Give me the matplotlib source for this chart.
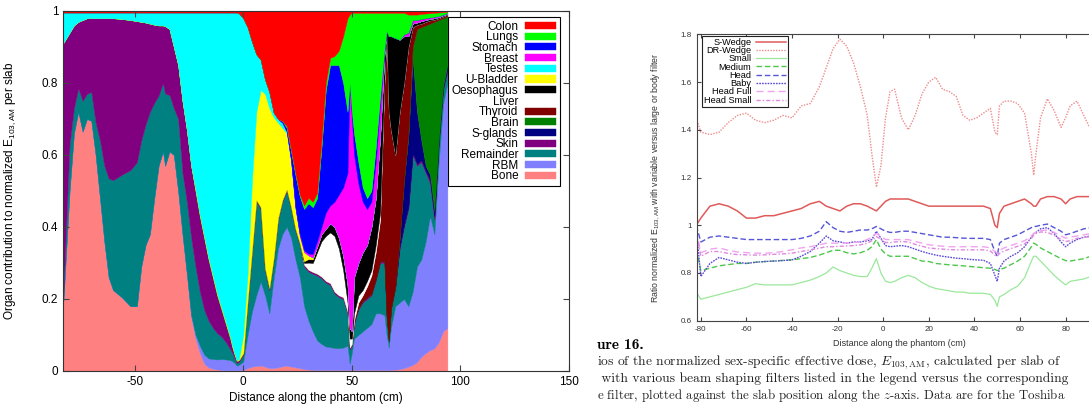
import matplotlib
matplotlib.use("Agg")
import matplotlib.pyplot as plt

plt.rcParams['font.family'] = ['Liberation Sans', 'DejaVu Sans']
plt.rcParams['axes.unicode_minus'] = False

# ---------------- left panel: organ contribution per slab ----------------
position = [-83, -80, -78, -76, -74, -72, -70, -68, -66, -64,
            -62, -60, -56, -52, -49, -47, -45, -43, -41, -39,
            -37, -36, -34, -32, -30, -28, -26, -24, -22, -20,
            -18, -16, -14, -12, -10, -8, -6, -5, -4, -3,
            -2, 0, 2, 4, 6, 8, 10, 12, 14, 16,
            18, 20, 22, 24, 26, 28, 30, 32, 34, 36,
            38, 40, 42, 44, 46, 48, 49, 50, 51, 53,
            55, 57, 59, 61, 63, 65, 66, 67, 68, 70,
            72, 74, 76, 78, 80, 82, 84, 86, 88, 90,
            92, 94]

bone = [.18, .50, .66, .72, .665, .70, .695, .60, .48, .36,
        .26, .225, .205, .18, .18, .29, .35, .38, .48, .57,
        .61, .57, .61, .60, .50, .38, .27, .15, .09, .05,
        .02, .01, .006, .004, .003, .002, .002, .002, .002, .002,
        .002, .003, .008, .012, .014, .015, .012, .008, .008, .01,
        .013, .015, .012, .01, .008, .005, .004, .003, .003, .003,
        .003, .003, .003, .003, .003, .003, .003, .003, .003, .003,
        .003, .003, .003, .003, .003, .003, .003, .003, .003, .004,
        .005, .008, .012, .017, .025, .04, .05, .058, .063, .08,
        .11, .12]
rbm = [0, 0, 0, 0, 0, 0, 0, 0, 0, 0,
       0, 0, 0, 0, 0, 0, 0, 0, 0, 0,
       0, 0, 0, 0, 0, 0, 0, .005, .01, .02,
       .025, .025, .027, .028, .03, .03, .028, .025, .02, .013,
       .015, .023, .092, .153, .196, .233, .198, .152, .249, .33,
       .367, .385, .358, .30, .252, .175, .136, .107, .082, .072,
       .065, .063, .061, .06, .062, .067, .017, .047, .087, .097,
       .107, .117, .127, .157, .157, .152, .097, .062, .117, .176,
       .185, .192, .168, .203, .265, .27, .31, .372, .317, .50,
       .63, .68]
remainder = [.02, .13, .07, .065, .085, .07, .08, .09, .16, .21,
             .275, .305, .34, .378, .40, .35, .335, .34, .265, .195,
             .19, .20, .157, .13, .20, .17, .20, .215, .19, .15,
             .125, .105, .087, .073, .062, .048, .03, .023, .013, .007,
             .008, .019, .09, .165, .26, .202, .07, .065, .053, .08,
             .09, .10, .08, .08, .09, .11, .136, .16, .18, .182,
             .177, .173, .151, .142, .135, .09, .04, .02, .04, .07,
             .08, .08, .08, .09, .14, .145, .05, .015, .05, .05,
             .15, .20, .27, .38, .28, .27, .19, .09, .04, .05,
             .04, .03]
skin = [.71, .31, .23, .185, .225, .21, .205, .29, .34, .41,
        .445, .45, .433, .417, .392, .33, .283, .245, .217, .195,
        .16, .188, .183, .17, .15, .20, .20, .20, .21, .21,
        .20, .17, .14, .105, .075, .05, .03, .015, .01, .006,
        .005, .005, .005, .005, .005, .005, .005, .005, .005, .005,
        .005, .005, .005, .005, .005, .005, .005, .005, .005, .005,
        .005, .005, .005, .005, .005, .005, .005, .005, .005, .005,
        .005, .005, .005, .005, .005, .005, .005, .005, .005, .005,
        .005, .005, .005, .005, .005, .005, .005, .01, .01, .005,
        .005, .01]
s_glands = [0] * 80 + [.025, .125, .195, .265, .145, .055, .015, .015, .015, .005,
                       .005, .01]
brain = [0] * 80 + [0, 0, .01, .03, .23, .315, .39, .42, .525, .335,
                    .19, .135]
thyroid = [0] * 60 + [0, 0, 0, 0, 0, 0, 0, 0, .005, .015,
                      .015, .03, .05, .075, .115, .495, .785, .635, .495, .365,
                      .35, .27, .24, .055, .012, .01, .01, .009, .006, .005,
                      .005, .005]
liver = [0] * 50 + [0, 0, 0, 0, 0, .005, .02, .025, .06, .098,
                    .125, .141, .155, .13, .075, .025, .025, .015, .02, .02,
                    .015, .015, .015, .02, .02, .01, 0, 0, 0, 0,
                    0, 0, 0, 0, 0, 0, 0, 0, 0, 0,
                    0, 0]
oesophagus = [0] * 50 + [0, 0, 0, 0, 0, .005, .01, .01, .015, .02,
                         .02, .025, .025, .03, .04, .05, .03, .02, .10, .09,
                         .105, .10, .12, .13, .21, .07, .005, .21, .26, .325,
                         .20, .13, .03, .01, .006, .007, .005, .004, .004, .003,
                         .003, .002]
u_bladder = [0] * 20 + [0, 0, 0, 0, 0, 0, 0, 0, .005, .005,
                        .005, .005, .005, .005, .005, .005, .005, .004, .003, .002,
                        .003, .05, .075, .195, .245, .325, .485, .50, .39, .265,
                        .20, .155, .125, .055, .02, .025, .01, .005, 0, 0] + [0] * 32
testes = [.086, .056, .036, .026, .021, .016, .016, .016, .016, .016,
          .016, .016, .018, .021, .024, .026, .028, .031, .034, .036,
          .036, .038, .046, .096, .146, .246, .326, .426, .491, .561,
          .621, .681, .731, .781, .821, .861, .901, .927, .948, .966,
          .961, .88, .685, .385, .16, .085, .04, .045, .013, .01,
          .015, .005, .005, .005, 0, 0, 0, 0, 0, 0] + [0] * 32
breast = [0] * 50 + [0, 0, 0, 0, .005, .005, .005, .01, .015, .02,
                     .045, .05, .07, .12, .19, .31, .68, .59, .34, .22,
                     .14, .10, .07, .10, .09, .01, 0, 0, 0, 0,
                     0, .005, .01, .01, .007, .006, .005, .004, .004, .003,
                     .002, .002]
stomach = [0] * 50 + [.005, .01, .025, .09, .105, .115, .14, .13, .12, .22,
                      .34, .39, .38, .36, .29, .17, 0, .02, .06, .06,
                      .04, .03, .03, .04, .02, .005, 0, 0, 0, 0] + [0] * 12
lungs = [0] * 50 + [0, .005, .004, .005, .005, .01, .015, .015, .015, .02,
                    .02, .02, .025, .04, .13, .26, .19, .275, .335, .415,
                    .485, .515, .495, .375, .235, .10, .05, .065, .065, .07,
                    .075, .06, .05, .015, .015, .014, .013, .012, .011, .01,
                    .007, .004]
colon = [.004] * 40 + [.006, .02, .045, .085, .12, .135, .19, .225, .282, .30,
                       .305, .32, .386, .45, .51, .54, .52, .53, .505, .36,
                       .20, .13, .125, .11, .07, .02, .01, .005, .005, .005,
                       .005, .005, .005, .005, .005, .005, .005, .005, .005, .005,
                       .005, .005, .01, .01, .01, .008, .007, .006, .005, .004,
                       .003, .002]

organ_names = ['Bone', 'RBM', 'Remainder', 'Skin', 'S-glands', 'Brain', 'Thyroid',
               'Liver', 'Oesophagus', 'U-Bladder', 'Testes', 'Breast', 'Stomach',
               'Lungs', 'Colon']
organ_colors = ['#ff8080', '#8080ff', '#008080', '#800080', '#000080', '#008000',
                '#800000', '#ffffff', '#000000', '#ffff00', '#00ffff', '#ff00ff',
                '#0000ff', '#00ff00', '#ff0000']

# ---------------- right panel: ratio per filter ----------------
slab = [-82, -80, -76, -72, -68, -64, -60, -56, -52, -48,
        -44, -40, -36, -32, -28, -25, -22, -19, -16, -13,
        -10, -7, -5, -3, -1, 1, 3, 5, 8, 11,
        14, 17, 20, 23, 26, 29, 32, 35, 38, 41,
        44, 47, 49, 50, 51, 53, 56, 59, 62, 65,
        66, 67, 69, 72, 75, 78, 80, 82, 85, 88,
        91, 94]
s_wedge = [1.00, 1.03, 1.08, 1.09, 1.08, 1.06, 1.03, 1.03, 1.04, 1.04,
           1.05, 1.06, 1.07, 1.09, 1.10, 1.08, 1.07, 1.06, 1.08, 1.09,
           1.09, 1.08, 1.07, 1.06, 1.08, 1.10, 1.11, 1.11, 1.11, 1.11,
           1.10, 1.09, 1.08, 1.08, 1.08, 1.08, 1.08, 1.08, 1.08, 1.08,
           1.08, 1.07, 1.00, 0.99, 1.05, 1.08, 1.09, 1.10, 1.11, 1.09,
           1.08, 1.08, 1.11, 1.12, 1.12, 1.11, 1.09, 1.11, 1.12, 1.12,
           1.12, 1.12]
dr_wedge = [1.45, 1.39, 1.38, 1.39, 1.43, 1.46, 1.47, 1.44, 1.43, 1.44,
            1.46, 1.45, 1.50, 1.51, 1.58, 1.66, 1.74, 1.78, 1.75, 1.68,
            1.58, 1.46, 1.30, 1.16, 1.25, 1.45, 1.56, 1.57, 1.45, 1.40,
            1.46, 1.55, 1.60, 1.62, 1.57, 1.56, 1.54, 1.46, 1.44, 1.45,
            1.47, 1.49, 1.39, 1.38, 1.50, 1.52, 1.52, 1.51, 1.47, 1.30,
            1.21, 1.30, 1.45, 1.53, 1.48, 1.41, 1.45, 1.50, 1.52, 1.46,
            1.40, 1.38]
small = [0.72, 0.69, 0.70, 0.71, 0.72, 0.73, 0.74, 0.755, 0.75, 0.75,
         0.75, 0.75, 0.76, 0.77, 0.785, 0.80, 0.825, 0.81, 0.80, 0.79,
         0.785, 0.785, 0.82, 0.86, 0.80, 0.765, 0.76, 0.765, 0.78, 0.79,
         0.78, 0.76, 0.745, 0.735, 0.73, 0.725, 0.72, 0.72, 0.715, 0.715,
         0.715, 0.71, 0.685, 0.66, 0.70, 0.71, 0.73, 0.745, 0.78, 0.85,
         0.87, 0.87, 0.85, 0.82, 0.79, 0.765, 0.75, 0.765, 0.77, 0.775,
         0.785, 0.79]
medium = [0.90, 0.81, 0.82, 0.83, 0.835, 0.84, 0.84, 0.845, 0.848, 0.85,
          0.853, 0.855, 0.86, 0.865, 0.875, 0.885, 0.895, 0.895, 0.885, 0.88,
          0.885, 0.895, 0.91, 0.94, 0.90, 0.88, 0.87, 0.87, 0.87, 0.87,
          0.86, 0.85, 0.848, 0.84, 0.837, 0.834, 0.832, 0.83, 0.827, 0.825,
          0.822, 0.82, 0.815, 0.81, 0.815, 0.82, 0.835, 0.85, 0.87, 0.91,
          0.925, 0.92, 0.905, 0.89, 0.875, 0.86, 0.852, 0.85, 0.855, 0.86,
          0.87, 0.875]
head = [1.00, 0.93, 0.95, 0.955, 0.95, 0.945, 0.94, 0.94, 0.94, 0.94,
        0.94, 0.94, 0.945, 0.955, 0.975, 1.015, 0.99, 0.975, 0.97, 0.975,
        0.98, 0.98, 0.985, 0.995, 0.985, 0.975, 0.97, 0.97, 0.975, 0.975,
        0.97, 0.965, 0.96, 0.955, 0.95, 0.95, 0.948, 0.946, 0.945, 0.945,
        0.945, 0.94, 0.89, 0.87, 0.925, 0.94, 0.95, 0.96, 0.975, 0.99,
        0.995, 0.995, 1.00, 1.005, 0.99, 0.975, 0.96, 0.965, 0.975, 0.985,
        0.99, 0.99]
baby = [0.98, 0.785, 0.84, 0.865, 0.855, 0.845, 0.84, 0.845, 0.848, 0.85,
        0.852, 0.855, 0.87, 0.89, 0.925, 0.955, 0.935, 0.93, 0.925, 0.93,
        0.93, 0.935, 0.94, 0.975, 0.945, 0.915, 0.91, 0.912, 0.915, 0.91,
        0.90, 0.89, 0.882, 0.875, 0.87, 0.866, 0.862, 0.86, 0.857, 0.855,
        0.853, 0.84, 0.79, 0.765, 0.82, 0.85, 0.87, 0.885, 0.91, 0.95,
        0.965, 0.97, 0.985, 0.99, 0.965, 0.93, 0.91, 0.925, 0.94, 0.95,
        0.955, 0.96]
head_full = [0.98, 0.885, 0.90, 0.905, 0.895, 0.888, 0.885, 0.883, 0.883, 0.885,
             0.89, 0.897, 0.905, 0.91, 0.918, 0.925, 0.925, 0.925, 0.926, 0.928,
             0.93, 0.94, 0.95, 0.965, 0.955, 0.94, 0.94, 0.94, 0.94, 0.94,
             0.932, 0.925, 0.918, 0.915, 0.912, 0.91, 0.91, 0.91, 0.91, 0.91,
             0.91, 0.905, 0.89, 0.883, 0.895, 0.905, 0.915, 0.925, 0.935, 0.955,
             0.965, 0.97, 0.978, 0.98, 0.97, 0.955, 0.946, 0.95, 0.955, 0.96,
             0.965, 0.966]
head_small = [0.97, 0.87, 0.89, 0.89, 0.882, 0.877, 0.876, 0.875, 0.876, 0.878,
              0.88, 0.883, 0.89, 0.897, 0.904, 0.91, 0.91, 0.912, 0.913, 0.915,
              0.918, 0.925, 0.935, 0.953, 0.94, 0.928, 0.927, 0.93, 0.932, 0.93,
              0.92, 0.912, 0.905, 0.902, 0.90, 0.898, 0.897, 0.897, 0.897, 0.897,
              0.897, 0.892, 0.875, 0.87, 0.882, 0.892, 0.902, 0.912, 0.922, 0.945,
              0.958, 0.965, 0.972, 0.97, 0.958, 0.94, 0.932, 0.935, 0.945, 0.95,
              0.952, 0.953]

caption_head = 'ure 16.'
caption_lines = [r'ios of the normalized sex-specific effective dose, $E_{103,\mathrm{AM}}$, calculated per slab of',
                 ' with various beam shaping filters listed in the legend versus the corresponding',
                 r'e filter, plotted against the slab position along the $z$-axis. Data are for the Toshiba']
caption_sizes = [9.7, 9.7, 9.25]

fig = plt.figure(figsize=(10.89, 4.07), dpi=100)

# left panel
ax = fig.add_axes([0.0579, 0.0885, 0.4646, 0.8845])
layers = [bone, rbm, remainder, skin, s_glands, brain, thyroid, liver,
          oesophagus, u_bladder, testes, breast, stomach, lungs, colon]
polys = ax.stackplot(position, layers, colors=organ_colors, labels=organ_names, lw=0.3)
for p, c in zip(polys, organ_colors):
    p.set_edgecolor(c)
ax.set_xlim(-83, 150)
ax.set_ylim(0, 1)
ax.set_xticks([-50, 0, 50, 100, 150])
ax.set_yticks([0, 0.2, 0.4, 0.6, 0.8, 1])
ax.set_yticklabels(['0', '0.2', '0.4', '0.6', '0.8', '1'])
ax.tick_params(direction='in', top=True, right=True, labelsize=8.5, length=4, color='#444444')
for s in ax.spines.values():
    s.set_color('#333333')
ax.set_xlabel('Distance along the phantom (cm)', fontsize=8.5)
ax.xaxis.set_label_coords(0.5, -0.058)
ax.set_ylabel(r'Organ contribution to normalized E$_{\mathregular{103,AM}}$ per slab', fontsize=8.5)
ax.yaxis.set_label_coords(-0.09, 0.5)
leg = ax.legend(polys[::-1], organ_names[::-1], loc='upper left', bbox_to_anchor=(0.761, 0.983),
                markerfirst=False, fontsize=8.5, labelspacing=-0.11, handlelength=2.6,
                handleheight=0.55, handletextpad=0.6, borderpad=0.3, borderaxespad=0,
                fancybox=False, edgecolor='black', framealpha=1)
leg.get_frame().set_linewidth(0.8)

# right panel
ax2 = fig.add_axes([0.6398, 0.212, 0.3722, 0.7037])
ax2.plot(slab, s_wedge, color='#e05a5a', lw=1.1, label='S-Wedge')
ax2.plot(slab, dr_wedge, color='#ee8c8c', lw=1.0, ls=(0, (1, 1)), label='DR-Wedge')
ax2.plot(slab, small, color='#9be89b', lw=0.9, label='Small')
ax2.plot(slab, medium, color='#4cc84c', lw=1.0, ls=(0, (4, 2)), label='Medium')
ax2.plot(slab, head, color='#5656d6', lw=1.0, ls=(0, (4, 2)), label='Head')
ax2.plot(slab, baby, color='#5a4ad8', lw=1.0, ls=(0, (1.2, 0.8)), label='Baby')
ax2.plot(slab, head_full, color='#f0a4f0', lw=1.0, ls=(0, (5, 3)), label='Head Full')
ax2.plot(slab, head_small, color='#e088e0', lw=1.0, ls=(0, (3, 1.5, 1, 1.5)), label='Head Small')
ax2.set_xlim(-81.8, 96)
ax2.set_ylim(0.6, 1.8)
ax2.set_xticks([-80, -60, -40, -20, 0, 20, 40, 60, 80])
ax2.set_yticks([0.6, 0.8, 1.0, 1.2, 1.4, 1.6, 1.8])
ax2.set_yticklabels(['0.6', '0.8', '1', '1.2', '1.4', '1.6', '1.8'])
ax2.tick_params(direction='in', top=True, right=True, labelsize=5.8, length=3,
                color='#444444', labelcolor='#333333')
for s in ax2.spines.values():
    s.set_color('#444444')
ax2.set_xlabel('Distance along the phantom (cm)', fontsize=6.5, color='#333333')
ax2.xaxis.set_label_coords(0.5, -0.065)
ax2.set_ylabel(r'Ratio normalized E$_{\mathregular{103,AM}}$ with variable versus large or body filter',
               fontsize=6.3, color='#333333')
ax2.yaxis.set_label_coords(-0.085, 0.5)
leg2 = ax2.legend(loc='upper left', bbox_to_anchor=(0.0123, 0.994), markerfirst=False,
                  fontsize=6.6, labelspacing=-0.08, handlelength=3.3, handletextpad=0.5,
                  borderpad=0.2, borderaxespad=0, fancybox=False, edgecolor='#222222',
                  framealpha=1)
leg2.get_frame().set_linewidth(0.8)

# caption under the right panel
fig.text(597 / 1089, 1 - 345 / 407, caption_head, fontsize=11, family='cmb10', va='center')
for i, (line, size) in enumerate(zip(caption_lines, caption_sizes)):
    fig.text(597 / 1089, 1 - (362 + 17 * i) / 407, line, fontsize=size, family='cmr10',
             math_fontfamily='cm', va='center', color='#222222')

fig.savefig('out.png', dpi=100)
